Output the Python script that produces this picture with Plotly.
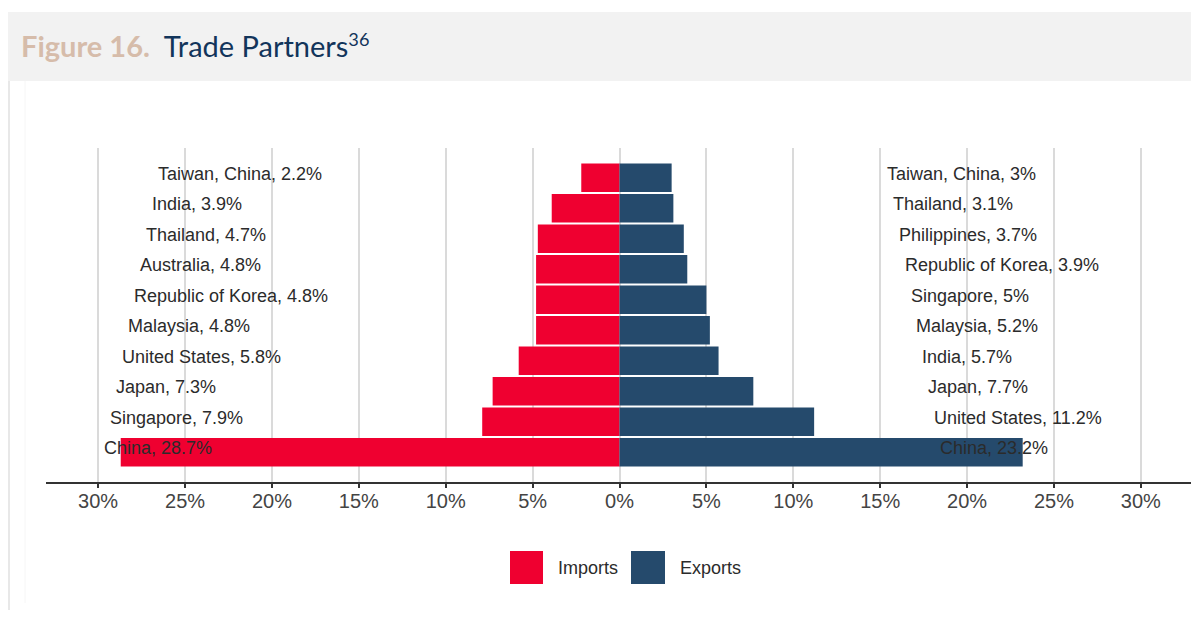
import plotly.graph_objects as go

# ---- data ----
import_countries = ["Taiwan, China", "India", "Thailand", "Australia", "Republic of Korea",
                    "Malaysia", "United States", "Japan", "Singapore", "China"]
import_values = [2.2, 3.9, 4.7, 4.8, 4.8, 4.8, 5.8, 7.3, 7.9, 28.7]
export_countries = ["Taiwan, China", "Thailand", "Philippines", "Republic of Korea", "Singapore",
                    "Malaysia", "India", "Japan", "United States", "China"]
export_values = [3, 3.1, 3.7, 3.9, 5, 5.2, 5.7, 7.7, 11.2, 23.2]
tick_values = [-30, -25, -20, -15, -10, -5, 0, 5, 10, 15, 20, 25, 30]
tick_labels = ["30%", "25%", "20%", "15%", "10%", "5%", "0%", "5%", "10%", "15%", "20%", "25%", "30%"]

RED = "#ef0030"
NAVY = "#254a6c"
OFF = 8  # page body margin
W, H = 1199 - OFF, 621 - OFF
L, R, T, B = 46 - OFF, 6, 148 - OFF, 139

n = len(import_values)
rows = list(range(n - 1, -1, -1))  # top row first -> highest y

def fmt(v):
    return f"{v:g}%"

fig = go.Figure()
fig.add_trace(go.Bar(y=rows, x=[-v for v in import_values], orientation="h",
                     marker=dict(color=RED, line=dict(width=0)), width=0.93,
                     name="Imports", showlegend=False, hoverinfo="skip"))
fig.add_trace(go.Bar(y=rows, x=export_values, orientation="h",
                     marker=dict(color=NAVY, line=dict(width=0)), width=0.93,
                     name="Exports", showlegend=False, hoverinfo="skip"))

annotations = []
label_font = dict(family="Liberation Sans, Arial, sans-serif", size=18, color="#2b2b2b")
for i, (c, v) in enumerate(zip(import_countries, import_values)):
    r = rows[i]
    annotations.append(dict(x=-29.75 + 0.345 * r, y=r, xref="x", yref="y", text=f"{c}, {fmt(v)}",
                            showarrow=False, xanchor="left", yanchor="middle", yshift=4,
                            font=label_font))
for i, (c, v) in enumerate(zip(export_countries, export_values)):
    r = rows[i]
    annotations.append(dict(x=18.3 - 0.333 * r, y=r, xref="x", yref="y", text=f"{c}, {fmt(v)}",
                            showarrow=False, xanchor="left", yanchor="middle", yshift=4,
                            font=label_font))

pw, ph = W - L - R, H - T - B
def px(xp):
    return (xp - OFF - L) / pw
def py(yp):
    return (H - B - (yp - OFF)) / ph

# header
annotations.append(dict(x=px(19), y=py(46), xref="paper", yref="paper", xanchor="left", yanchor="middle",
                        showarrow=False,
                        text="<span style='color:#d6bcaa'><b>Figure 16.</b></span>  Trade Partners"
                             "<span style='font-size:26px'><sup>36</sup></span>",
                        font=dict(family="Lato", size=29, color="#12355b")))
# legend texts
legend_font = dict(family="Liberation Sans, Arial, sans-serif", size=18, color="#2b2b2b")
annotations.append(dict(x=px(556), y=py(568), xref="paper", yref="paper", xanchor="left", yanchor="middle",
                        showarrow=False, text="Imports", font=legend_font))
annotations.append(dict(x=px(678), y=py(568), xref="paper", yref="paper", xanchor="left", yanchor="middle",
                        showarrow=False, text="Exports", font=legend_font))

shapes = [
    dict(type="rect", xref="paper", yref="paper", x0=px(8), x1=px(1199), y0=py(81), y1=py(12),
         fillcolor="#f2f2f2", line=dict(width=0), layer="below"),
    dict(type="line", xref="paper", yref="paper", x0=px(9), x1=px(9), y0=py(81), y1=py(610),
         line=dict(color="#e8e8e8", width=2)),
    dict(type="line", xref="paper", yref="paper", x0=px(25), x1=px(25), y0=py(81), y1=py(603),
         line=dict(color="#f6f6f6", width=1)),
    dict(type="rect", xref="paper", yref="paper", x0=px(510), x1=px(543), y0=py(584), y1=py(551),
         fillcolor=RED, line=dict(width=0)),
    dict(type="rect", xref="paper", yref="paper", x0=px(631), x1=px(665), y0=py(584), y1=py(551),
         fillcolor=NAVY, line=dict(width=0)),
]

fig.update_layout(
    width=W, height=H, margin=dict(l=L, r=R, t=T, b=B, pad=0),
    paper_bgcolor="white", plot_bgcolor="white",
    barmode="overlay", showlegend=False,
    annotations=annotations, shapes=shapes,
    xaxis=dict(range=[-33, 33], tickvals=tick_values, ticktext=tick_labels,
               showgrid=True, gridcolor="#dadada", gridwidth=2, zeroline=False,
               showline=True, linecolor="#333333", linewidth=2,
               ticks="outside", ticklen=4, tickwidth=2, tickcolor="#333333",
               ticklabelstandoff=-4,
               tickfont=dict(family="Liberation Sans, Arial, sans-serif", size=20, color="#444444"),
               fixedrange=True),
    yaxis=dict(range=[-0.975, 9.975], visible=False, showgrid=False, fixedrange=True),
)

fig.write_html("out.html")
